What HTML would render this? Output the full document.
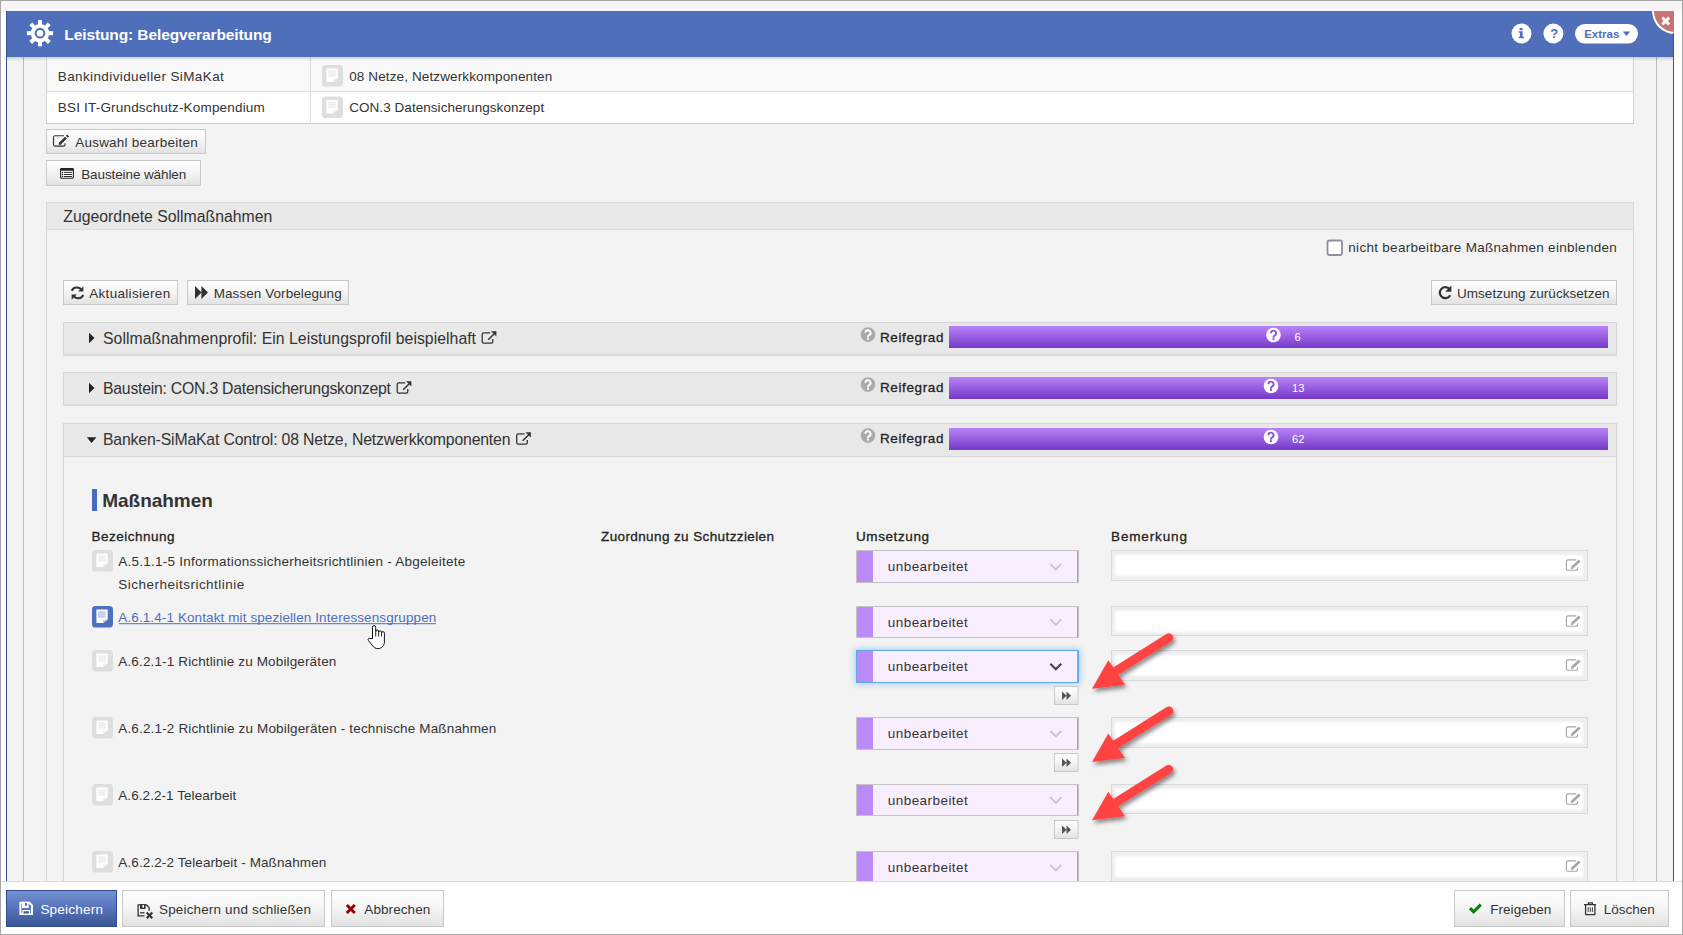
<!DOCTYPE html>
<html><head><meta charset="utf-8"><title>Leistung: Belegverarbeitung</title>
<style>html,body{margin:0;padding:0;width:1683px;height:935px;overflow:hidden;background:#fff}
text{font-family:"Liberation Sans", sans-serif}</style></head>
<body><svg width="1683" height="935" viewBox="0 0 1683 935" style="display:block;font-family:'Liberation Sans', sans-serif">
<defs>
 <linearGradient id="gbtn" x1="0" y1="0" x2="0" y2="1">
  <stop offset="0" stop-color="#fdfdfd"/><stop offset="0.45" stop-color="#f6f6f6"/><stop offset="1" stop-color="#e2e2e2"/>
 </linearGradient>
 <linearGradient id="gblue" x1="0" y1="0" x2="0" y2="1">
  <stop offset="0" stop-color="#7491d2"/><stop offset="0.5" stop-color="#5573b9"/><stop offset="1" stop-color="#3b5798"/>
 </linearGradient>
 <linearGradient id="gbar" x1="0" y1="0" x2="0" y2="1">
  <stop offset="0" stop-color="#b883f8"/><stop offset="1" stop-color="#7539c8"/>
 </linearGradient>
 <linearGradient id="ghdrshadow" x1="0" y1="0" x2="0" y2="1">
  <stop offset="0" stop-color="#000" stop-opacity="0.16"/><stop offset="1" stop-color="#000" stop-opacity="0"/>
 </linearGradient>
 <filter id="ashadow" x="-30%" y="-30%" width="160%" height="160%">
  <feDropShadow dx="2" dy="3" stdDeviation="2" flood-color="#000" flood-opacity="0.45"/>
 </filter>
 <filter id="glow" x="-20%" y="-80%" width="140%" height="260%">
  <feGaussianBlur stdDeviation="3.5"/>
 </filter>
 <filter id="soft" x="-5%" y="-50%" width="110%" height="200%"><feGaussianBlur stdDeviation="1.1"/></filter>
 <clipPath id="hdrclip"><rect x="6" y="11" width="1668" height="46"/></clipPath>
 <clipPath id="bodyclip"><rect x="6" y="57" width="1668" height="824"/></clipPath>
</defs>
<rect x="0" y="0" width="1683" height="935" fill="#ffffff" />
<rect x="1" y="1" width="1681" height="10" fill="#f6f6f6" />
<rect x="0" y="0" width="1683" height="1" fill="#a6a6a6" />
<rect x="0" y="934" width="1683" height="1" fill="#a6a6a6" />
<rect x="0" y="0" width="1" height="935" fill="#a6a6a6" />
<rect x="1682" y="0" width="1" height="935" fill="#a6a6a6" />
<rect x="6" y="11" width="1668" height="46" fill="#4f6fba" />
<g clip-path="url(#hdrclip)"><circle cx="1675" cy="11" r="23" fill="#ffffff"/><circle cx="1675" cy="11" r="21" fill="#c97272"/></g>
<path d="M1662.3 17.6l6.8 6.8M1669.1 17.6l-6.8 6.8" stroke="#fff" stroke-width="2.9"/>
<circle cx="40" cy="33.2" r="9.2" fill="#fff"/>
<rect x="38" y="20.1" width="4" height="6" fill="#fff" transform="rotate(0 40 33.2)"/>
<rect x="38" y="20.1" width="4" height="6" fill="#fff" transform="rotate(45 40 33.2)"/>
<rect x="38" y="20.1" width="4" height="6" fill="#fff" transform="rotate(90 40 33.2)"/>
<rect x="38" y="20.1" width="4" height="6" fill="#fff" transform="rotate(135 40 33.2)"/>
<rect x="38" y="20.1" width="4" height="6" fill="#fff" transform="rotate(180 40 33.2)"/>
<rect x="38" y="20.1" width="4" height="6" fill="#fff" transform="rotate(225 40 33.2)"/>
<rect x="38" y="20.1" width="4" height="6" fill="#fff" transform="rotate(270 40 33.2)"/>
<rect x="38" y="20.1" width="4" height="6" fill="#fff" transform="rotate(315 40 33.2)"/>
<circle cx="40" cy="33.2" r="5.4" fill="#4f6fba"/>
<circle cx="40" cy="33.2" r="3.3" fill="#fff"/>
<text x="64.3" y="40.2" font-size="15.5" font-weight="700" fill="#ffffff" textLength="207.5" lengthAdjust="spacing" >Leistung: Belegverarbeitung</text>
<circle cx="1521.5" cy="33.5" r="10" fill="#fff"/>
<circle cx="1553.4" cy="33.5" r="10" fill="#fff"/>
<path d="M1519.6 27.9h3v2.4h-3z M1518.8 31.2h3.8v5.6h1.4v1.5h-5.3v-1.5h1.3v-4.1h-1.2z" fill="#4f6fba"/>
<text x="1550.2" y="38.4" font-size="13" font-weight="700" fill="#4f6fba" >?</text>
<rect x="1575" y="24" width="63" height="19.5" rx="9.75" fill="#fff"/>
<text x="1584.2" y="37.6" font-size="11.5" font-weight="700" fill="#4f6fba" textLength="35.2" lengthAdjust="spacing" >Extras</text>
<path d="M1622.8 31.6h7.4l-3.7 4.4z" fill="#4f6fba"/>
<rect x="7" y="57" width="1666" height="824" fill="#f3f3f3" />
<rect x="6" y="11" width="1" height="870" fill="#37549b" />
<rect x="1673" y="33" width="1" height="848" fill="#37549b" />
<g clip-path="url(#bodyclip)">
<rect x="23" y="57" width="1" height="824" fill="#bcbcbc" />
<rect x="1656" y="57" width="1" height="824" fill="#bcbcbc" />
<rect x="46" y="57" width="1588" height="34" fill="#f9f9f9" />
<rect x="46" y="92" width="1588" height="31" fill="#ffffff" />
<rect x="46" y="91" width="1588" height="1" fill="#dedede" />
<rect x="46" y="123" width="1588" height="1" fill="#cfcfcf" />
<rect x="46" y="57" width="1" height="67" fill="#d4d4d4" />
<rect x="1633" y="57" width="1" height="67" fill="#d4d4d4" />
<rect x="310" y="57" width="1" height="66" fill="#dedede" />
<text x="57.8" y="80.5" font-size="13.5" fill="#333" textLength="166" lengthAdjust="spacing" >Bankindividueller SiMaKat</text>
<text x="57.8" y="111.7" font-size="13.5" fill="#333" textLength="207" lengthAdjust="spacing" >BSI IT-Grundschutz-Kompendium</text>
<rect x="322" y="65" width="21" height="21.5" rx="3.6" fill="#dedede"/>
<path d="M326.4 68.4h11.3v10.1l-4.6 3.5h-6.7z" fill="#ffffff"/>
<path d="M333.09999999999997 82.0v-2.6a1 1 0 0 1 1-1h3.6z" fill="#eeeeee"/>
<rect x="328.09999999999997" y="70.30000000000001" width="7.5" height="6.4" fill="#efefef"/>
<rect x="328.09999999999997" y="72.0" width="7.5" height="0.5" fill="#ffffff" opacity="0.6"/>
<rect x="328.09999999999997" y="74.2" width="7.5" height="0.5" fill="#ffffff" opacity="0.6"/>
<rect x="322" y="96.5" width="21" height="21.5" rx="3.6" fill="#dedede"/>
<path d="M326.4 99.9h11.3v10.1l-4.6 3.5h-6.7z" fill="#ffffff"/>
<path d="M333.09999999999997 113.5v-2.6a1 1 0 0 1 1-1h3.6z" fill="#eeeeee"/>
<rect x="328.09999999999997" y="101.80000000000001" width="7.5" height="6.4" fill="#efefef"/>
<rect x="328.09999999999997" y="103.5" width="7.5" height="0.5" fill="#ffffff" opacity="0.6"/>
<rect x="328.09999999999997" y="105.7" width="7.5" height="0.5" fill="#ffffff" opacity="0.6"/>
<text x="349.2" y="80.5" font-size="13.5" fill="#333" textLength="203" lengthAdjust="spacing" >08 Netze, Netzwerkkomponenten</text>
<text x="349.2" y="111.7" font-size="13.5" fill="#333" textLength="195" lengthAdjust="spacing" >CON.3 Datensicherungskonzept</text>
<rect x="46" y="129" width="160" height="25" fill="#c9c9c9" />
<rect x="47" y="130" width="158" height="23" fill="url(#gbtn)" />
<rect x="46" y="160" width="155" height="26" fill="#c9c9c9" />
<rect x="47" y="161" width="153" height="24" fill="url(#gbtn)" />
<text x="75.2" y="146.8" font-size="13.5" fill="#333" textLength="122.5" lengthAdjust="spacing" >Auswahl bearbeiten</text>
<text x="81.2" y="178.6" font-size="13.5" fill="#333" textLength="105" lengthAdjust="spacing" >Bausteine wählen</text>
<path d="M63.9 135.7H55a1.5 1.5 0 0 0-1.5 1.5V144.6a1.5 1.5 0 0 0 1.5 1.5H63.6a1.5 1.5 0 0 0 1.5-1.5V143.2" fill="none" stroke="#333" stroke-width="1.15"/>
<path d="M59.9 143.6L66 137.6M66.8 136.8L68.1 135.5" stroke="#333" stroke-width="2.7"/>
<path d="M58.8 144.9l0.4-2.6 2.2 2.2z" fill="#333"/>
<rect x="60.6" y="168.6" width="12.8" height="9.7" rx="1.3" fill="#fff" stroke="#222" stroke-width="1.1"/>
<rect x="60.2" y="168.2" width="13.6" height="2.6" rx="1" fill="#222"/>
<circle cx="62.5" cy="172.4" r="0.75" fill="#222"/><path d="M64.3 172.4H71.7" stroke="#222" stroke-width="0.95" stroke-linecap="round"/>
<circle cx="62.5" cy="174.5" r="0.75" fill="#222"/><path d="M64.3 174.5H71.7" stroke="#222" stroke-width="0.95" stroke-linecap="round"/>
<circle cx="62.5" cy="176.5" r="0.75" fill="#222"/><path d="M64.3 176.5H71.7" stroke="#222" stroke-width="0.95" stroke-linecap="round"/>
<rect x="46" y="202" width="1588" height="700" fill="#d9d9d9" />
<rect x="47" y="203" width="1586" height="700" fill="#f3f3f3" />
<rect x="47" y="203" width="1586" height="26" fill="#e8e8e8" />
<rect x="47" y="229" width="1586" height="1" fill="#dcdcdc" />
<text x="63.3" y="222.2" font-size="15.8" fill="#333" textLength="209" lengthAdjust="spacing" >Zugeordnete Sollmaßnahmen</text>
<rect x="1327.5" y="240.5" width="14.5" height="14.5" rx="2" fill="#fff" stroke="#8e8ea0" stroke-width="1.8"/>
<text x="1348.3" y="251.7" font-size="13.5" fill="#333" textLength="268.5" lengthAdjust="spacing" >nicht bearbeitbare Maßnahmen einblenden</text>
<rect x="63" y="280" width="115" height="25" fill="#c9c9c9" />
<rect x="64" y="281" width="113" height="23" fill="url(#gbtn)" />
<rect x="187" y="280" width="162" height="25" fill="#c9c9c9" />
<rect x="188" y="281" width="160" height="23" fill="url(#gbtn)" />
<rect x="1431" y="280" width="186" height="25" fill="#c9c9c9" />
<rect x="1432" y="281" width="184" height="23" fill="url(#gbtn)" />
<text x="89.2" y="297.9" font-size="13.5" fill="#333" textLength="81" lengthAdjust="spacing" >Aktualisieren</text>
<text x="213.7" y="297.9" font-size="13.5" fill="#333" textLength="128" lengthAdjust="spacing" >Massen Vorbelegung</text>
<text x="1457" y="297.9" font-size="13.5" fill="#333" textLength="152.5" lengthAdjust="spacing" >Umsetzung zurücksetzen</text>
<path d="M81.6 290.2a5.6 5.6 0 0 0-9.9 0.6M73.4 295.6a5.6 5.6 0 0 0 9.9-0.6" fill="none" stroke="#333" stroke-width="2"/>
<path d="M83.4 286.3v5.2h-5.2z" fill="#333"/><path d="M71.6 299.7v-5.2h5.2z" fill="#333"/>
<path d="M195 286.1l6.6 6.5-6.6 6.5z M201.4 286.1l6.6 6.5-6.6 6.5z" fill="#333"/>
<path d="M1449.6 289.2a5.5 5.5 0 1 0 0.6 6" fill="none" stroke="#333" stroke-width="2.2"/>
<path d="M1451.4 285.6v6.2h-6.2z" fill="#333"/>
<rect x="63" y="322" width="1554" height="34" fill="#d6d6d6" />
<rect x="64" y="323" width="1552" height="32" fill="#e8e8e8" />
<rect x="63" y="354" width="1554" height="2" fill="#dadada" />
<path d="M89 332.7l5.5 5.3-5.5 5.3z" fill="#222"/>
<text x="103" y="343.9" font-size="15.8" fill="#333" textLength="373" lengthAdjust="spacing" >Sollmaßnahmenprofil: Ein Leistungsprofil beispielhaft</text>
<path d="M490.20000000000005 332.8H483.80000000000007a1.6 1.6 0 0 0-1.6 1.6V341.59999999999997a1.6 1.6 0 0 0 1.6 1.6H491.2a1.6 1.6 0 0 0 1.6-1.6V338.9" fill="none" stroke="#333" stroke-width="1.3"/>
<path d="M488.20000000000005 339.7L494.20000000000005 333.7" stroke="#333" stroke-width="1.5"/>
<path d="M491.0 331.2H496.40000000000003V336.59999999999997z" fill="#333"/>
<circle cx="868" cy="334.6" r="7.3" fill="#aaaaaa"/>
<path d="M865.4 332.8a2.6 2.6 0 1 1 3.6 2.4c-0.8 0.4-1 0.8-1 1.6v0.5" fill="none" stroke="#ffffff" stroke-width="1.9"/>
<rect x="867.05" y="337.8" width="1.9" height="1.9" fill="#ffffff"/>
<text x="880" y="341.9" font-size="13.5" fill="#222" textLength="63.5" lengthAdjust="spacing"  stroke="#222" stroke-width="0.3">Reifegrad</text>
<rect x="949" y="326" width="659" height="22" fill="url(#gbar)" />
<circle cx="1273.5" cy="335" r="7.3" fill="#ffffff"/>
<path d="M1270.9 333.2a2.6 2.6 0 1 1 3.6 2.4c-0.8 0.4-1 0.8-1 1.6v0.5" fill="none" stroke="#8a4fd6" stroke-width="1.9"/>
<rect x="1272.55" y="338.2" width="1.9" height="1.9" fill="#8a4fd6"/>
<text x="1294.5" y="341" font-size="11.2" fill="#ffffff" >6</text>
<rect x="63" y="372" width="1554" height="34" fill="#d6d6d6" />
<rect x="64" y="373" width="1552" height="32" fill="#e8e8e8" />
<rect x="63" y="404" width="1554" height="2" fill="#dadada" />
<path d="M89 382.7l5.5 5.3-5.5 5.3z" fill="#222"/>
<text x="103" y="393.9" font-size="15.8" fill="#333" textLength="288" lengthAdjust="spacing" >Baustein: CON.3 Datensicherungskonzept</text>
<path d="M405.20000000000005 382.8H398.80000000000007a1.6 1.6 0 0 0-1.6 1.6V391.59999999999997a1.6 1.6 0 0 0 1.6 1.6H406.2a1.6 1.6 0 0 0 1.6-1.6V388.9" fill="none" stroke="#333" stroke-width="1.3"/>
<path d="M403.20000000000005 389.7L409.20000000000005 383.7" stroke="#333" stroke-width="1.5"/>
<path d="M406.0 381.2H411.40000000000003V386.59999999999997z" fill="#333"/>
<circle cx="868" cy="384.6" r="7.3" fill="#aaaaaa"/>
<path d="M865.4 382.8a2.6 2.6 0 1 1 3.6 2.4c-0.8 0.4-1 0.8-1 1.6v0.5" fill="none" stroke="#ffffff" stroke-width="1.9"/>
<rect x="867.05" y="387.8" width="1.9" height="1.9" fill="#ffffff"/>
<text x="880" y="391.9" font-size="13.5" fill="#222" textLength="63.5" lengthAdjust="spacing"  stroke="#222" stroke-width="0.3">Reifegrad</text>
<rect x="949" y="377" width="659" height="22" fill="url(#gbar)" />
<circle cx="1271" cy="386" r="7.3" fill="#ffffff"/>
<path d="M1268.4 384.2a2.6 2.6 0 1 1 3.6 2.4c-0.8 0.4-1 0.8-1 1.6v0.5" fill="none" stroke="#8a4fd6" stroke-width="1.9"/>
<rect x="1270.05" y="389.2" width="1.9" height="1.9" fill="#8a4fd6"/>
<text x="1292" y="392" font-size="11.2" fill="#ffffff" >13</text>
<rect x="63" y="423" width="1554" height="600" fill="#d6d6d6" />
<rect x="64" y="424" width="1552" height="600" fill="#f3f3f3" />
<rect x="63" y="423" width="1554" height="34" fill="#d6d6d6" />
<rect x="64" y="424" width="1552" height="32" fill="#e8e8e8" />
<path d="M86.8 437.3h9.6l-4.8 5.6z" fill="#222"/>
<text x="103" y="444.9" font-size="15.8" fill="#333" textLength="407.5" lengthAdjust="spacing" >Banken-SiMaKat Control: 08 Netze, Netzwerkkomponenten</text>
<path d="M524.7 433.8H518.3000000000001a1.6 1.6 0 0 0-1.6 1.6V442.59999999999997a1.6 1.6 0 0 0 1.6 1.6H525.7a1.6 1.6 0 0 0 1.6-1.6V439.9" fill="none" stroke="#333" stroke-width="1.3"/>
<path d="M522.7 440.7L528.7 434.7" stroke="#333" stroke-width="1.5"/>
<path d="M525.5 432.2H530.9V437.59999999999997z" fill="#333"/>
<circle cx="868" cy="435.6" r="7.3" fill="#aaaaaa"/>
<path d="M865.4 433.8a2.6 2.6 0 1 1 3.6 2.4c-0.8 0.4-1 0.8-1 1.6v0.5" fill="none" stroke="#ffffff" stroke-width="1.9"/>
<rect x="867.05" y="438.8" width="1.9" height="1.9" fill="#ffffff"/>
<text x="880" y="442.9" font-size="13.5" fill="#222" textLength="63.5" lengthAdjust="spacing"  stroke="#222" stroke-width="0.3">Reifegrad</text>
<rect x="949" y="428" width="659" height="22" fill="url(#gbar)" />
<circle cx="1271" cy="437" r="7.3" fill="#ffffff"/>
<path d="M1268.4 435.2a2.6 2.6 0 1 1 3.6 2.4c-0.8 0.4-1 0.8-1 1.6v0.5" fill="none" stroke="#8a4fd6" stroke-width="1.9"/>
<rect x="1270.05" y="440.2" width="1.9" height="1.9" fill="#8a4fd6"/>
<text x="1292" y="443" font-size="11.2" fill="#ffffff" >62</text>
<rect x="64" y="456" width="1552" height="1" fill="#d6d6d6" />
<rect x="92" y="489" width="5" height="22" fill="#4a6bbe" />
<text x="102.3" y="507.2" font-size="19" font-weight="700" fill="#333" textLength="110.5" lengthAdjust="spacing" >Maßnahmen</text>
<text x="91.5" y="541.2" font-size="13.5" fill="#222" textLength="83" lengthAdjust="spacing"  stroke="#222" stroke-width="0.3">Bezeichnung</text>
<text x="601" y="541.2" font-size="13.5" fill="#222" textLength="173" lengthAdjust="spacing"  stroke="#222" stroke-width="0.3">Zuordnung zu Schutzzielen</text>
<text x="856" y="541.2" font-size="13.5" fill="#222" textLength="73" lengthAdjust="spacing"  stroke="#222" stroke-width="0.3">Umsetzung</text>
<text x="1111" y="541.2" font-size="13.5" fill="#222" textLength="76" lengthAdjust="spacing"  stroke="#222" stroke-width="0.3">Bemerkung</text>
<rect x="92" y="550" width="21" height="21.5" rx="3.6" fill="#dedede"/>
<path d="M96.4 553.4h11.3v10.1l-4.6 3.5h-6.7z" fill="#ffffff"/>
<path d="M103.10000000000001 567.0v-2.6a1 1 0 0 1 1-1h3.6z" fill="#eeeeee"/>
<rect x="98.10000000000001" y="555.3" width="7.5" height="6.4" fill="#efefef"/>
<rect x="98.10000000000001" y="557.0" width="7.5" height="0.5" fill="#ffffff" opacity="0.6"/>
<rect x="98.10000000000001" y="559.1999999999999" width="7.5" height="0.5" fill="#ffffff" opacity="0.6"/>
<text x="118.3" y="566.3" font-size="13.5" fill="#333" textLength="347" lengthAdjust="spacing" >A.5.1.1-5 Informationssicherheitsrichtlinien - Abgeleitete</text>
<text x="118.3" y="588.6999999999999" font-size="13.5" fill="#333" textLength="126" lengthAdjust="spacing" >Sicherheitsrichtlinie</text>
<rect x="856" y="550" width="223" height="33" fill="#c4c4c4" />
<rect x="857" y="551" width="221" height="31" fill="#f9eefe" />
<rect x="857" y="551" width="16" height="31" fill="#b98af8" />
<rect x="1077" y="551" width="1" height="31" fill="#b98af8" />
<text x="887.8" y="571.4" font-size="13.5" fill="#333" textLength="80" lengthAdjust="spacing" >unbearbeitet</text>
<path d="M1050.3 563.8l5.5 5.5 5.5-5.5" fill="none" stroke="#c6c6c6" stroke-width="1.9"/>
<rect x="1111" y="550" width="477" height="31" fill="#d9d9d9" />
<rect x="1112" y="551" width="475" height="29" fill="#eeeeee" />
<rect x="1115" y="555" width="468" height="21" fill="#fff" filter="url(#soft)"/>
<path d="M1576.2 559.8H1567.9a1.5 1.5 0 0 0-1.5 1.5V568.7a1.5 1.5 0 0 0 1.5 1.5H1576a1.5 1.5 0 0 0 1.5-1.5V567.2" fill="none" stroke="#a6a6a6" stroke-width="1.15"/>
<path d="M1572.2 567.4L1579.7 560.5" stroke="#a6a6a6" stroke-width="2.7"/>
<path d="M1570.8 568.9l0.5-2.7 2.3 2.2z" fill="#a6a6a6"/>
<rect x="92" y="606" width="21" height="21.5" rx="3.6" fill="#4f6fbf"/>
<path d="M96.4 609.4h11.3v10.1l-4.6 3.5h-6.7z" fill="#ffffff"/>
<path d="M103.10000000000001 623.0v-2.6a1 1 0 0 1 1-1h3.6z" fill="#c5d0ec"/>
<rect x="98.10000000000001" y="611.3" width="7.5" height="6.4" fill="#bccaea"/>
<rect x="98.10000000000001" y="613.0" width="7.5" height="0.5" fill="#ffffff" opacity="0.6"/>
<rect x="98.10000000000001" y="615.1999999999999" width="7.5" height="0.5" fill="#ffffff" opacity="0.6"/>
<text x="118.3" y="622.3" font-size="13.5" fill="#4d6ec0" textLength="318" lengthAdjust="spacing" >A.6.1.4-1 Kontakt mit speziellen Interessensgruppen</text>
<rect x="119" y="623.2" width="317" height="1" fill="#4d6ec0" />
<rect x="856" y="606" width="223" height="32" fill="#c4c4c4" />
<rect x="857" y="607" width="221" height="30" fill="#f9eefe" />
<rect x="857" y="607" width="16" height="30" fill="#b98af8" />
<rect x="1077" y="607" width="1" height="30" fill="#b98af8" />
<text x="887.8" y="626.9" font-size="13.5" fill="#333" textLength="80" lengthAdjust="spacing" >unbearbeitet</text>
<path d="M1050.3 619.3l5.5 5.5 5.5-5.5" fill="none" stroke="#c6c6c6" stroke-width="1.9"/>
<rect x="1111" y="606" width="477" height="30" fill="#d9d9d9" />
<rect x="1112" y="607" width="475" height="28" fill="#eeeeee" />
<rect x="1115" y="611" width="468" height="21" fill="#fff" filter="url(#soft)"/>
<path d="M1576.2 615.8H1567.9a1.5 1.5 0 0 0-1.5 1.5V624.7a1.5 1.5 0 0 0 1.5 1.5H1576a1.5 1.5 0 0 0 1.5-1.5V623.2" fill="none" stroke="#a6a6a6" stroke-width="1.15"/>
<path d="M1572.2 623.4L1579.7 616.5" stroke="#a6a6a6" stroke-width="2.7"/>
<path d="M1570.8 624.9l0.5-2.7 2.3 2.2z" fill="#a6a6a6"/>
<rect x="92" y="650" width="21" height="21.5" rx="3.6" fill="#dedede"/>
<path d="M96.4 653.4h11.3v10.1l-4.6 3.5h-6.7z" fill="#ffffff"/>
<path d="M103.10000000000001 667.0v-2.6a1 1 0 0 1 1-1h3.6z" fill="#eeeeee"/>
<rect x="98.10000000000001" y="655.3" width="7.5" height="6.4" fill="#efefef"/>
<rect x="98.10000000000001" y="657.0" width="7.5" height="0.5" fill="#ffffff" opacity="0.6"/>
<rect x="98.10000000000001" y="659.1999999999999" width="7.5" height="0.5" fill="#ffffff" opacity="0.6"/>
<text x="118.3" y="666.3" font-size="13.5" fill="#333" textLength="218" lengthAdjust="spacing" >A.6.2.1-1 Richtlinie zu Mobilgeräten</text>
<rect x="855" y="649" width="225" height="35" fill="#8cc0ec" opacity="0.75" filter="url(#glow)"/>
<rect x="856" y="650" width="223" height="33" fill="#5ea8e8" />
<rect x="857" y="651" width="221" height="31" fill="#f9eefe" />
<rect x="857" y="651" width="16" height="31" fill="#b98af8" />
<rect x="1077" y="651" width="1" height="31" fill="#b98af8" />
<text x="887.8" y="671.4" font-size="13.5" fill="#333" textLength="80" lengthAdjust="spacing" >unbearbeitet</text>
<path d="M1050.3 663.8l5.5 5.5 5.5-5.5" fill="none" stroke="#444" stroke-width="2.2"/>
<rect x="1054" y="686" width="24.5" height="19" fill="#c9c9c9" />
<rect x="1055" y="687" width="22.5" height="17" fill="url(#gbtn)" />
<path d="M1062 691.4l4.6 4.3-4.6 4.3z M1066.5 691.4l4.6 4.3-4.6 4.3z" fill="#555"/>
<rect x="1111" y="650" width="477" height="31" fill="#d9d9d9" />
<rect x="1112" y="651" width="475" height="29" fill="#eeeeee" />
<rect x="1115" y="655" width="468" height="21" fill="#fff" filter="url(#soft)"/>
<path d="M1576.2 659.8H1567.9a1.5 1.5 0 0 0-1.5 1.5V668.7a1.5 1.5 0 0 0 1.5 1.5H1576a1.5 1.5 0 0 0 1.5-1.5V667.2" fill="none" stroke="#a6a6a6" stroke-width="1.15"/>
<path d="M1572.2 667.4L1579.7 660.5" stroke="#a6a6a6" stroke-width="2.7"/>
<path d="M1570.8 668.9l0.5-2.7 2.3 2.2z" fill="#a6a6a6"/>
<rect x="92" y="717" width="21" height="21.5" rx="3.6" fill="#dedede"/>
<path d="M96.4 720.4h11.3v10.1l-4.6 3.5h-6.7z" fill="#ffffff"/>
<path d="M103.10000000000001 734.0v-2.6a1 1 0 0 1 1-1h3.6z" fill="#eeeeee"/>
<rect x="98.10000000000001" y="722.3" width="7.5" height="6.4" fill="#efefef"/>
<rect x="98.10000000000001" y="724.0" width="7.5" height="0.5" fill="#ffffff" opacity="0.6"/>
<rect x="98.10000000000001" y="726.1999999999999" width="7.5" height="0.5" fill="#ffffff" opacity="0.6"/>
<text x="118.3" y="733.3" font-size="13.5" fill="#333" textLength="378" lengthAdjust="spacing" >A.6.2.1-2 Richtlinie zu Mobilgeräten - technische Maßnahmen</text>
<rect x="856" y="717" width="223" height="33" fill="#c4c4c4" />
<rect x="857" y="718" width="221" height="31" fill="#f9eefe" />
<rect x="857" y="718" width="16" height="31" fill="#b98af8" />
<rect x="1077" y="718" width="1" height="31" fill="#b98af8" />
<text x="887.8" y="738.4" font-size="13.5" fill="#333" textLength="80" lengthAdjust="spacing" >unbearbeitet</text>
<path d="M1050.3 730.8l5.5 5.5 5.5-5.5" fill="none" stroke="#c6c6c6" stroke-width="1.9"/>
<rect x="1054" y="753" width="24.5" height="19" fill="#c9c9c9" />
<rect x="1055" y="754" width="22.5" height="17" fill="url(#gbtn)" />
<path d="M1062 758.4l4.6 4.3-4.6 4.3z M1066.5 758.4l4.6 4.3-4.6 4.3z" fill="#555"/>
<rect x="1111" y="717" width="477" height="31" fill="#d9d9d9" />
<rect x="1112" y="718" width="475" height="29" fill="#eeeeee" />
<rect x="1115" y="722" width="468" height="21" fill="#fff" filter="url(#soft)"/>
<path d="M1576.2 726.8H1567.9a1.5 1.5 0 0 0-1.5 1.5V735.7a1.5 1.5 0 0 0 1.5 1.5H1576a1.5 1.5 0 0 0 1.5-1.5V734.2" fill="none" stroke="#a6a6a6" stroke-width="1.15"/>
<path d="M1572.2 734.4L1579.7 727.5" stroke="#a6a6a6" stroke-width="2.7"/>
<path d="M1570.8 735.9l0.5-2.7 2.3 2.2z" fill="#a6a6a6"/>
<rect x="92" y="784" width="21" height="21.5" rx="3.6" fill="#dedede"/>
<path d="M96.4 787.4h11.3v10.1l-4.6 3.5h-6.7z" fill="#ffffff"/>
<path d="M103.10000000000001 801.0v-2.6a1 1 0 0 1 1-1h3.6z" fill="#eeeeee"/>
<rect x="98.10000000000001" y="789.3" width="7.5" height="6.4" fill="#efefef"/>
<rect x="98.10000000000001" y="791.0" width="7.5" height="0.5" fill="#ffffff" opacity="0.6"/>
<rect x="98.10000000000001" y="793.1999999999999" width="7.5" height="0.5" fill="#ffffff" opacity="0.6"/>
<text x="118.3" y="800.3" font-size="13.5" fill="#333" textLength="118" lengthAdjust="spacing" >A.6.2.2-1 Telearbeit</text>
<rect x="856" y="784" width="223" height="32" fill="#c4c4c4" />
<rect x="857" y="785" width="221" height="30" fill="#f9eefe" />
<rect x="857" y="785" width="16" height="30" fill="#b98af8" />
<rect x="1077" y="785" width="1" height="30" fill="#b98af8" />
<text x="887.8" y="804.9" font-size="13.5" fill="#333" textLength="80" lengthAdjust="spacing" >unbearbeitet</text>
<path d="M1050.3 797.3l5.5 5.5 5.5-5.5" fill="none" stroke="#c6c6c6" stroke-width="1.9"/>
<rect x="1054" y="820" width="24.5" height="19" fill="#c9c9c9" />
<rect x="1055" y="821" width="22.5" height="17" fill="url(#gbtn)" />
<path d="M1062 825.4l4.6 4.3-4.6 4.3z M1066.5 825.4l4.6 4.3-4.6 4.3z" fill="#555"/>
<rect x="1111" y="784" width="477" height="30" fill="#d9d9d9" />
<rect x="1112" y="785" width="475" height="28" fill="#eeeeee" />
<rect x="1115" y="789" width="468" height="21" fill="#fff" filter="url(#soft)"/>
<path d="M1576.2 793.8H1567.9a1.5 1.5 0 0 0-1.5 1.5V802.7a1.5 1.5 0 0 0 1.5 1.5H1576a1.5 1.5 0 0 0 1.5-1.5V801.2" fill="none" stroke="#a6a6a6" stroke-width="1.15"/>
<path d="M1572.2 801.4L1579.7 794.5" stroke="#a6a6a6" stroke-width="2.7"/>
<path d="M1570.8 802.9l0.5-2.7 2.3 2.2z" fill="#a6a6a6"/>
<rect x="92" y="851" width="21" height="21.5" rx="3.6" fill="#dedede"/>
<path d="M96.4 854.4h11.3v10.1l-4.6 3.5h-6.7z" fill="#ffffff"/>
<path d="M103.10000000000001 868.0v-2.6a1 1 0 0 1 1-1h3.6z" fill="#eeeeee"/>
<rect x="98.10000000000001" y="856.3" width="7.5" height="6.4" fill="#efefef"/>
<rect x="98.10000000000001" y="858.0" width="7.5" height="0.5" fill="#ffffff" opacity="0.6"/>
<rect x="98.10000000000001" y="860.1999999999999" width="7.5" height="0.5" fill="#ffffff" opacity="0.6"/>
<text x="118.3" y="867.3" font-size="13.5" fill="#333" textLength="208" lengthAdjust="spacing" >A.6.2.2-2 Telearbeit - Maßnahmen</text>
<rect x="856" y="851" width="223" height="33" fill="#c4c4c4" />
<rect x="857" y="852" width="221" height="31" fill="#f9eefe" />
<rect x="857" y="852" width="16" height="31" fill="#b98af8" />
<rect x="1077" y="852" width="1" height="31" fill="#b98af8" />
<text x="887.8" y="872.4" font-size="13.5" fill="#333" textLength="80" lengthAdjust="spacing" >unbearbeitet</text>
<path d="M1050.3 864.8l5.5 5.5 5.5-5.5" fill="none" stroke="#c6c6c6" stroke-width="1.9"/>
<rect x="1111" y="851" width="477" height="31" fill="#d9d9d9" />
<rect x="1112" y="852" width="475" height="29" fill="#eeeeee" />
<rect x="1115" y="856" width="468" height="21" fill="#fff" filter="url(#soft)"/>
<path d="M1576.2 860.8H1567.9a1.5 1.5 0 0 0-1.5 1.5V869.7a1.5 1.5 0 0 0 1.5 1.5H1576a1.5 1.5 0 0 0 1.5-1.5V868.2" fill="none" stroke="#a6a6a6" stroke-width="1.15"/>
<path d="M1572.2 868.4L1579.7 861.5" stroke="#a6a6a6" stroke-width="2.7"/>
<path d="M1570.8 869.9l0.5-2.7 2.3 2.2z" fill="#a6a6a6"/>
<rect x="7" y="57" width="1666" height="4" fill="url(#ghdrshadow)" />
</g>
<rect x="1" y="881" width="1681" height="53" fill="#ffffff" />
<rect x="1" y="881" width="1681" height="1" fill="#dadada" />
<rect x="6" y="890" width="111" height="37" fill="#2f4c8f" />
<rect x="7" y="891" width="109" height="35" fill="url(#gblue)" />
<text x="40.4" y="914.3" font-size="13.5" fill="#ffffff" textLength="62.5" lengthAdjust="spacing" >Speichern</text>
<path d="M20.4 902.8H29.3L32 905.5V914H20.4Z" fill="none" stroke="#fff" stroke-width="2"/>
<rect x="22" y="901.8" width="6.7" height="6.2" fill="#fff"/><rect x="25.1" y="903.1" width="2" height="2.8" fill="#5573b9"/>
<rect x="22.9" y="910.6" width="6.6" height="3.6" fill="#3f5c9f" stroke="#fff" stroke-width="1.3"/>
<rect x="122" y="890" width="203" height="37" fill="#c9c9c9" />
<rect x="123" y="891" width="201" height="35" fill="url(#gbtn)" />
<text x="159" y="914.3" font-size="13.5" fill="#333" textLength="152" lengthAdjust="spacing" >Speichern und schließen</text>
<path d="M144.5 915.8H138.1V904.8H146.5L149.1 907.6V910.7" fill="none" stroke="#333" stroke-width="1.3"/>
<rect x="140" y="904.2" width="5.6" height="4.8" fill="#333"/><rect x="142.4" y="905" width="1.6" height="2.7" fill="#fff"/>
<path d="M140 912.8h4.5" stroke="#333" stroke-width="1.3"/>
<path d="M146.7 912.6l5.6 5.7M152.3 912.6l-5.6 5.7" stroke="#333" stroke-width="2.1"/>
<rect x="331" y="890" width="113" height="37" fill="#c9c9c9" />
<rect x="332" y="891" width="111" height="35" fill="url(#gbtn)" />
<text x="364.3" y="914.3" font-size="13.5" fill="#333" textLength="66" lengthAdjust="spacing" >Abbrechen</text>
<path d="M346.8 905l8 8M354.8 905l-8 8" stroke="#990000" stroke-width="2.9"/>
<rect x="1454" y="890" width="111" height="37" fill="#c9c9c9" />
<rect x="1455" y="891" width="109" height="35" fill="url(#gbtn)" />
<text x="1490.3" y="914.3" font-size="13.5" fill="#333" textLength="61" lengthAdjust="spacing" >Freigeben</text>
<path d="M1470 908.2L1473.6 911.8L1480.8 904.6" fill="none" stroke="#0a800a" stroke-width="3.1"/>
<rect x="1570" y="890" width="99" height="37" fill="#c9c9c9" />
<rect x="1571" y="891" width="97" height="35" fill="url(#gbtn)" />
<text x="1603.8" y="914.3" font-size="13.5" fill="#333" textLength="51" lengthAdjust="spacing" >Löschen</text>
<path d="M1584 904.6h12M1588.4 904.6v-1.8h3.9v1.8" fill="none" stroke="#333" stroke-width="1.3"/>
<path d="M1585.6 904.8v9.1a0.8 0.8 0 0 0 0.8 0.8h7.7a0.8 0.8 0 0 0 0.8-0.8v-9.1" fill="none" stroke="#333" stroke-width="1.3"/>
<path d="M1588.2 907.2v4.7M1590.3 907.2v4.7M1592.4 907.2v4.7" stroke="#444" stroke-width="1"/>
<g filter="url(#ashadow)" transform="translate(0 0)"><path d="M1168.8 637.8L1116 671" stroke="#ff4242" stroke-width="9" stroke-linecap="round"/><path d="M1092 688.8L1108.3 660.2L1125 684.8z" fill="#ff4242"/></g>
<g filter="url(#ashadow)" transform="translate(0 73.2)"><path d="M1168.8 637.8L1116 671" stroke="#ff4242" stroke-width="9" stroke-linecap="round"/><path d="M1092 688.8L1108.3 660.2L1125 684.8z" fill="#ff4242"/></g>
<g filter="url(#ashadow)" transform="translate(0 131.5)"><path d="M1168.8 637.8L1116 671" stroke="#ff4242" stroke-width="9" stroke-linecap="round"/><path d="M1092 688.8L1108.3 660.2L1125 684.8z" fill="#ff4242"/></g>
<path d="M372.5 638.5V627.2a1.6 1.6 0 0 1 3.2 0V631.5a1.45 1.45 0 0 1 2.9 0V632.3a1.45 1.45 0 0 1 2.9 0V633.1a1.45 1.45 0 0 1 2.9 0V642c0 3.6-2.8 6.6-6.5 6.6c-2.4 0-3.9-1.1-5-2.5l-4.6-5.8c-0.9-1.2 0.6-2.8 1.9-1.8z" fill="#fff" stroke="#111" stroke-width="1"/>
<path d="M375.7 631.5V636.5M378.6 632.3V636.5M381.5 633.1V636.5" stroke="#111" stroke-width="0.9"/></svg></body></html>
